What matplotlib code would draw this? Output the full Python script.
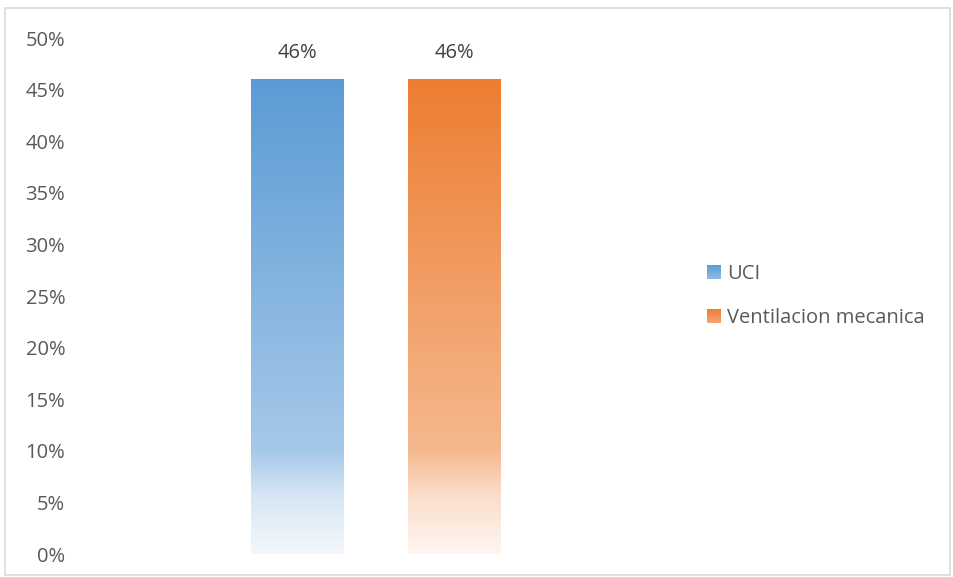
import numpy as np
import matplotlib
matplotlib.use("Agg")
import matplotlib.pyplot as plt
from matplotlib.colors import LinearSegmentedColormap, to_rgb
from matplotlib.patches import Rectangle
from matplotlib.legend_handler import HandlerBase

plt.rcParams['font.family'] = ['Open Sans', 'DejaVu Sans']

series = ["UCI", "Ventilacion mecanica"]
values = [46, 46]
colors = ["#5B9BD5", "#ED7D31"]
yticks = [0, 5, 10, 15, 20, 25, 30, 35, 40, 45, 50]


def fade_cmap(base):
    r, g, b = to_rgb(base)
    def tint(t):
        return (r + (1 - r) * t, g + (1 - g) * t, b + (1 - b) * t)
    # bottom (0) -> top (1)
    stops = [(0.0, tint(0.93)), (0.12, tint(0.75)), (0.22, tint(0.45)),
             (0.45, tint(0.32)), (1.0, tint(0.0))]
    return LinearSegmentedColormap.from_list("fade", stops)


W, H = 954, 577
FS = 14.5
fig = plt.figure(figsize=(W / 100, H / 100), dpi=100)
ax = fig.add_axes([75 / W, (H - 554) / H, (677 - 75) / W, (554 - 38) / H])

# bar positions in axes units (one category, two series side by side)
positions = [-0.98, 0.98]
width = 1.16
ax.set_xlim(-3.76, 3.76)
ax.set_ylim(0, 50)

grad = np.linspace(0, 1, 256).reshape(-1, 1)
for x, v, c in zip(positions, values, colors):
    ax.imshow(grad, cmap=fade_cmap(c), origin="lower", aspect="auto",
              extent=(x - width / 2, x + width / 2, 0, v), zorder=2)
    ax.text(x, v + 2.5, f"{v}%", ha="center", va="center",
            fontsize=FS, color="#404040")

ax.set_yticks(yticks)
ax.set_yticklabels([f"{t}%" for t in yticks], fontsize=FS, color="#595959")
ax.tick_params(axis="y", length=0, pad=7)
ax.set_xticks([])
for s in ax.spines.values():
    s.set_visible(False)
ax.set_aspect("auto")


class GradientHandler(HandlerBase):
    def __init__(self, base):
        super().__init__()
        self.cmap = fade_cmap(base)

    def create_artists(self, legend, orig_handle, xdescent, ydescent,
                       width, height, fontsize, trans):
        n = 12
        size = 10
        x0 = (width - size) / 2 - xdescent
        y0 = (height - size) / 2 - ydescent
        arts = []
        for i in range(n):
            t = 0.45 + 0.55 * (i + 0.5) / n
            arts.append(Rectangle((x0, y0 + size * i / n), size, size / n + 0.2,
                                  facecolor=self.cmap(t), edgecolor="none",
                                  transform=trans))
        return arts


handles = [Rectangle((0, 0), 1, 1) for _ in series]
leg = fig.legend(handles, series, loc="center left",
                 bbox_to_anchor=(688 / W, (H - 296) / H),
                 frameon=False, fontsize=FS, labelspacing=1.2,
                 handlelength=0.75, handletextpad=0.3,
                 handler_map={h: GradientHandler(c) for h, c in zip(handles, colors)})
for t in leg.get_texts():
    t.set_color("#595959")

fig.patches.append(Rectangle((5 / W, 2 / H), 945 / W, (H - 10) / H,
                             transform=fig.transFigure, fill=False,
                             edgecolor="#D9D9D9", linewidth=1.2))

fig.savefig("out.png", dpi=100)
